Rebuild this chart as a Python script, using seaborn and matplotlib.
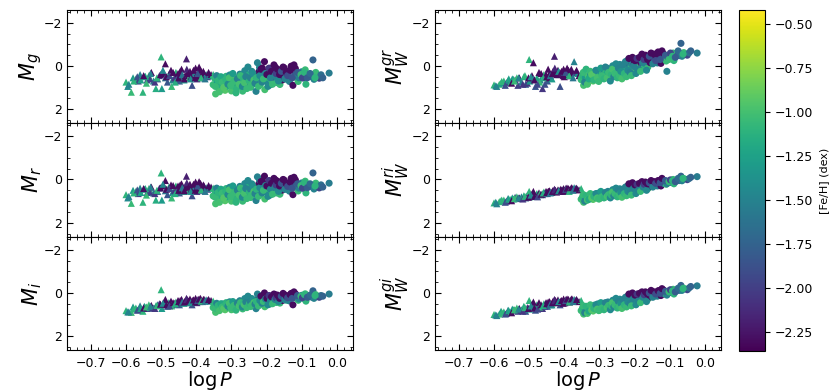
import numpy as np
import pandas as pd
import seaborn as sns
import matplotlib.pyplot as plt
from matplotlib.ticker import MultipleLocator
from matplotlib.colors import Normalize
from matplotlib.cm import ScalarMappable

# RRc stars (triangles): logP, [Fe/H] and absolute magnitudes per band
c_logp = [-0.600, -0.595, -0.585, -0.580, -0.572, -0.565, -0.560, -0.552, -0.548, -0.540,
          -0.535, -0.528, -0.522, -0.515, -0.510, -0.505, -0.500, -0.498, -0.492, -0.488,
          -0.482, -0.478, -0.472, -0.468, -0.462, -0.458, -0.452, -0.448, -0.442, -0.438,
          -0.432, -0.428, -0.425, -0.420, -0.418, -0.412, -0.410, -0.405, -0.402, -0.398,
          -0.395, -0.390, -0.388, -0.382, -0.378, -0.372, -0.368, -0.362, -0.358, -0.352,
          -0.532, -0.545, -0.470, -0.455, -0.445, -0.435, -0.415, -0.400, -0.385, -0.488,
          -0.592, -0.578, -0.568, -0.558, -0.550, -0.542, -0.530, -0.518, -0.512, -0.502,
          -0.495, -0.485, -0.476, -0.466, -0.460, -0.450, -0.446, -0.440, -0.434, -0.427,
          -0.422, -0.416, -0.408, -0.403, -0.396, -0.392, -0.386, -0.380, -0.375, -0.365]
c_feh = [-1.10, -1.45, -1.05, -1.30, -1.10, -2.00, -1.50, -1.10, -1.35, -1.90,
         -1.05, -2.30, -1.50, -1.15, -1.80, -2.05, -1.10, -1.30, -2.30, -1.60,
         -1.85, -1.20, -2.30, -1.50, -2.05, -1.10, -2.30, -1.80, -2.30, -1.45,
         -2.30, -2.20, -2.30, -1.10, -2.30, -1.90, -2.30, -1.50, -2.30, -2.10,
         -2.30, -1.20, -2.30, -1.80, -2.30, -1.50, -2.00, -1.40, -2.30, -1.10,
         -2.00, -1.20, -1.05, -1.90, -2.30, -1.30, -2.25, -2.30, -2.30, -2.30,
         -1.50, -1.10, -1.90, -1.25, -2.30, -1.05, -1.50, -2.05, -1.10, -2.30,
         -1.45, -2.30, -1.95, -2.30, -1.15, -2.30, -2.30, -1.60, -2.30, -2.15,
         -2.30, -1.40, -2.30, -2.30, -1.85, -2.30, -1.10, -2.30, -1.60, -2.30]
c_mg = [0.75, 0.95, 1.22, 0.55, 0.60, 0.70, 0.40, 1.22, 0.50, 0.65,
        0.45, 0.30, 0.70, 1.05, 0.60, 0.45, -0.42, 1.05, 0.35, 0.55,
        0.75, 0.40, 0.20, 0.65, 0.55, 0.30, 0.35, 0.70, 0.15, 0.50,
        0.45, -0.33, 0.30, 0.55, 0.25, 0.90, 0.40, 0.35, 0.10, 0.60,
        0.30, 0.45, 0.20, 0.55, 0.35, 0.40, 0.50, 0.45, 0.40, 0.40,
        0.60, 0.48, 0.95, 0.60, 0.40, 0.65, 0.50, 0.45, 0.50, -0.10,
        0.85, 0.70, 0.50, 0.65, 0.45, 0.80, 0.35, 0.75, 0.55, 0.40,
        0.20, 0.50, 0.45, 0.30, 0.75, 0.55, 0.25, 0.40, 0.60, 0.15,
        0.35, 0.60, 0.20, 0.55, 0.35, 0.05, 0.55, 0.25, 0.60, 0.30]
c_mr = [0.70, 0.85, 1.10, 0.50, 0.55, 0.65, 0.40, 1.05, 0.45, 0.60,
        0.42, 0.35, 0.62, 0.95, 0.55, 0.40, -0.30, 0.95, 0.30, 0.52,
        0.70, 0.35, 0.25, 0.60, 0.50, 0.30, 0.30, 0.62, 0.20, 0.45,
        0.40, -0.15, 0.28, 0.50, 0.22, 0.75, 0.38, 0.35, 0.12, 0.55,
        0.30, 0.40, 0.18, 0.50, 0.30, 0.38, 0.45, 0.40, 0.35, 0.40,
        0.58, 0.42, 0.85, 0.55, 0.35, 0.55, 0.45, 0.42, 0.45, 0.05,
        0.78, 0.62, 0.48, 0.60, 0.42, 0.72, 0.35, 0.65, 0.50, 0.38,
        0.22, 0.45, 0.42, 0.28, 0.65, 0.50, 0.25, 0.38, 0.52, 0.15,
        0.35, 0.55, 0.22, 0.50, 0.30, 0.10, 0.48, 0.25, 0.55, 0.28]
c_mi = [0.82, 0.88, 0.90, 0.65, 0.70, 0.78, 0.60, 0.85, 0.62, 0.72,
        0.55, 0.58, 0.70, 0.60, 0.55, 0.50, -0.15, 0.72, 0.45, 0.52,
        0.62, 0.45, 0.38, 0.55, 0.48, 0.42, 0.35, 0.55, 0.30, 0.45,
        0.38, 0.25, 0.32, 0.45, 0.28, 0.55, 0.35, 0.38, 0.25, 0.45,
        0.30, 0.40, 0.25, 0.40, 0.30, 0.32, 0.35, 0.38, 0.35, 0.38,
        0.70, 0.68, 0.60, 0.52, 0.42, 0.48, 0.38, 0.40, 0.38, 0.30,
        0.88, 0.75, 0.80, 0.72, 0.70, 0.65, 0.62, 0.72, 0.58, 0.52,
        0.48, 0.55, 0.60, 0.45, 0.50, 0.40, 0.35, 0.42, 0.42, 0.30,
        0.38, 0.45, 0.32, 0.42, 0.35, 0.28, 0.38, 0.30, 0.38, 0.30]
c_wgr = [0.88, 0.92, 0.85, 0.80, 0.70, 0.78, 0.68, 0.75, 0.60, 0.65,
         0.55, 0.55, 0.75, 0.50, 0.85, 0.80, -0.30, 0.70, 0.45, 0.60,
         0.95, 0.55, 0.30, 0.65, 1.05, 0.40, 0.40, 0.70, 0.35, 0.55,
         0.25, -0.45, 0.30, 0.40, 0.20, 0.95, 0.35, 0.30, 0.15, 0.45,
         0.25, 0.35, 0.20, 0.40, 0.30, -0.20, 0.30, 0.35, 0.45, 0.40,
         0.90, 0.62, 0.75, 0.85, 0.55, 0.60, 0.40, 0.50, 0.45, -0.15,
         0.95, 0.72, 0.90, 0.60, 0.80, 0.70, 0.55, 0.85, 0.45, 0.55,
         0.50, 0.65, 0.85, 0.35, 0.55, 0.50, 0.15, 0.45, 0.35, 0.10,
         0.40, 0.25, 0.25, 0.45, 0.30, 0.10, 0.45, 0.15, 0.55, 0.20]
c_wri = [1.08, 1.05, 1.02, 0.98, 0.95, 1.00, 0.88, 0.92, 0.85, 0.82,
         0.80, 0.85, 0.80, 0.75, 0.85, 0.72, 0.55, 0.80, 0.68, 0.70,
         0.78, 0.65, 0.62, 0.70, 0.70, 0.58, 0.55, 0.65, 0.52, 0.58,
         0.50, 0.45, 0.50, 0.55, 0.48, 0.55, 0.45, 0.48, 0.42, 0.50,
         0.40, 0.45, 0.42, 0.45, 0.40, 0.38, 0.42, 0.45, 0.48, 0.42,
         0.88, 0.90, 0.68, 0.65, 0.55, 0.60, 0.50, 0.52, 0.48, 0.55,
         1.12, 0.95, 1.05, 0.90, 0.98, 0.88, 0.85, 0.90, 0.78, 0.82,
         0.72, 0.78, 0.80, 0.68, 0.62, 0.60, 0.55, 0.62, 0.55, 0.48,
         0.58, 0.52, 0.50, 0.55, 0.45, 0.40, 0.55, 0.38, 0.50, 0.40]
c_wgi = [1.00, 1.02, 0.98, 0.85, 0.88, 0.95, 0.80, 0.90, 0.75, 0.80,
         0.70, 0.72, 0.78, 0.62, 0.85, 0.68, 0.35, 0.75, 0.55, 0.62,
         0.80, 0.55, 0.45, 0.68, 0.72, 0.50, 0.45, 0.62, 0.40, 0.55,
         0.38, 0.30, 0.35, 0.45, 0.32, 0.55, 0.38, 0.40, 0.28, 0.45,
         0.30, 0.38, 0.30, 0.35, 0.28, 0.30, 0.35, 0.38, 0.40, 0.35,
         0.85, 0.78, 0.65, 0.62, 0.50, 0.55, 0.42, 0.45, 0.42, 0.42,
         1.05, 0.90, 0.98, 0.82, 0.92, 0.78, 0.75, 0.85, 0.68, 0.72,
         0.60, 0.70, 0.75, 0.55, 0.58, 0.50, 0.42, 0.52, 0.45, 0.36,
         0.45, 0.40, 0.35, 0.48, 0.35, 0.28, 0.42, 0.28, 0.40, 0.30]

# RRab stars (circles)
ab_logp = [-0.352, -0.348, -0.345, -0.340, -0.336, -0.332, -0.328, -0.325, -0.320, -0.318,
           -0.315, -0.312, -0.308, -0.305, -0.300, -0.298, -0.295, -0.292, -0.290, -0.288,
           -0.285, -0.282, -0.280, -0.276, -0.272, -0.270, -0.268, -0.265, -0.262, -0.260,
           -0.258, -0.255, -0.252, -0.250, -0.248, -0.245, -0.242, -0.240, -0.238, -0.235,
           -0.232, -0.230, -0.228, -0.225, -0.222, -0.220, -0.218, -0.215, -0.212, -0.210,
           -0.208, -0.205, -0.202, -0.200, -0.198, -0.195, -0.192, -0.190, -0.188, -0.185,
           -0.182, -0.180, -0.178, -0.175, -0.172, -0.170, -0.168, -0.165, -0.162, -0.160,
           -0.155, -0.152, -0.150, -0.145, -0.142, -0.138, -0.135, -0.130, -0.125, -0.120,
           -0.118, -0.115, -0.110, -0.105, -0.100, -0.095, -0.090, -0.088, -0.080, -0.072,
           -0.068, -0.065, -0.060, -0.050, -0.045, -0.022, -0.108,
           -0.346, -0.342, -0.338, -0.334, -0.330, -0.326, -0.322, -0.316, -0.310, -0.306,
           -0.302, -0.296, -0.293, -0.287, -0.283, -0.278, -0.274, -0.269, -0.266, -0.263,
           -0.259, -0.256, -0.253, -0.249, -0.246, -0.243, -0.239, -0.236, -0.233, -0.229,
           -0.226, -0.223, -0.219, -0.216, -0.213, -0.209, -0.206, -0.203, -0.199, -0.196,
           -0.193, -0.189, -0.186, -0.183, -0.179, -0.176, -0.173, -0.169, -0.166, -0.163,
           -0.158, -0.153, -0.148, -0.144, -0.140, -0.133, -0.127, -0.122, -0.112, -0.102,
           -0.098, -0.092, -0.084, -0.076, -0.062, -0.040]
ab_feh = [-1.05, -1.10, -1.00, -1.30, -1.05, -1.00, -1.15, -1.40, -1.05, -0.95,
          -1.10, -1.20, -1.05, -1.45, -1.00, -1.10, -1.30, -1.05, -1.00, -1.55,
          -1.10, -1.05, -1.20, -1.50, -1.00, -1.10, -1.05, -1.35, -1.45, -1.05,
          -1.10, -1.50, -1.00, -1.15, -1.50, -1.05, -1.45, -1.10, -1.30, -1.55,
          -1.05, -1.50, -1.10, -1.20, -2.30, -1.45, -1.05, -1.50, -2.30, -1.10,
          -1.50, -1.00, -1.85, -2.30, -1.45, -1.10, -2.30, -1.50, -2.05, -1.05,
          -2.30, -1.50, -1.80, -2.30, -1.10, -2.00, -1.45, -2.30, -1.05, -1.80,
          -2.30, -1.50, -2.30, -1.95, -1.10, -2.30, -1.50, -2.30, -2.30, -1.80,
          -2.30, -1.45, -1.05, -1.90, -1.50, -1.85, -1.05, -1.10, -1.85, -1.65,
          -1.75, -1.50, -1.05, -1.95, -1.65, -1.55, -1.50,
          -1.05, -1.50, -1.10, -1.00, -1.20, -1.05, -0.95, -1.10, -1.45, -1.00,
          -1.05, -1.30, -1.05, -1.10, -1.50, -1.00, -1.05, -1.45, -1.10, -1.00,
          -1.50, -1.05, -1.45, -1.10, -1.50, -1.05, -1.40, -1.00, -1.50, -1.10,
          -1.50, -1.05, -1.45, -2.30, -1.50, -1.05, -2.30, -1.50, -2.30, -1.45,
          -2.05, -1.50, -2.30, -1.05, -2.30, -1.50, -2.00, -2.30, -1.45, -2.30,
          -1.85, -2.30, -1.50, -2.30, -1.90, -2.30, -1.85, -2.30, -1.80, -1.05,
          -1.95, -1.10, -1.80, -1.70, -1.10, -1.75]
ab_mg = [0.87, 0.57, 1.30, 0.76, 1.05, 0.65, 0.89, 0.59, 0.79, 1.13,
         0.48, 0.93, 0.72, 0.42, 1.16, 0.81, 0.61, 0.95, 0.65, 0.75,
         1.04, 0.54, 0.79, 0.38, 0.88, 0.67, 1.17, 0.47, 0.22, 0.82,
         0.56, 0.96, 0.71, 0.41, 0.75, 0.99, 0.25, 0.64, 0.84, 0.54,
         0.78, 1.18, 0.48, 0.68, 0.27, 0.07, 0.87, 0.61, 0.10, 0.71,
         0.40, 1.10, 0.50, 0.29, 0.73, 0.53, 0.13, 0.88, 0.38, 0.68,
         0.48, 0.27, 0.62, 0.06, 0.77, 0.41, 0.61, 0.26, 0.86, 0.50,
         0.65, 0.34, 0.09, 0.53, 0.62, 0.27, 0.72, 0.01, 0.90, 0.40,
         0.12, 0.54, 0.72, 0.44, 0.27, 0.56, 0.18, 0.85, 0.45, 0.50,
         -0.28, 0.62, 0.30, 0.57, 0.41, 0.33, 0.55,
         0.95, 0.45, 0.68, 1.20, 0.50, 0.75, 1.00, 0.62, 0.85, 0.55,
         0.90, 0.35, 0.72, 1.25, 0.60, 0.85, 0.45, 0.95, 0.60, 0.78,
         0.50, 1.05, 0.05, 0.70, 0.55, 0.88, 0.35, 0.65, 0.80, 0.55,
         -0.15, 0.95, 0.45, 0.15, 0.75, 0.60, -0.20, 0.35, 0.40, 0.95,
         0.10, 0.55, 0.25, 0.85, -0.05, 0.45, 0.35, 0.15, 0.70, 0.40,
         0.25, 0.05, 0.60, 0.30, 0.45, 0.20, 0.55, -0.05, 0.30, 0.40,
         0.55, 0.30, 0.55, 0.35, 0.55, 0.55]
ab_mr = [0.76, 0.50, 1.12, 0.66, 0.92, 0.57, 0.77, 0.51, 0.68, 0.98,
         0.42, 0.80, 0.62, 0.36, 1.00, 0.69, 0.52, 0.81, 0.56, 0.64,
         0.89, 0.46, 0.67, 0.32, 0.75, 0.57, 1.00, 0.40, 0.19, 0.68,
         0.47, 0.80, 0.59, 0.34, 0.62, 0.83, 0.20, 0.52, 0.69, 0.43,
         0.64, 0.97, 0.38, 0.55, 0.20, 0.03, 0.71, 0.49, 0.06, 0.57,
         0.31, 0.90, 0.39, 0.22, 0.59, 0.42, 0.08, 0.72, 0.29, 0.54,
         0.37, 0.19, 0.48, 0.02, 0.62, 0.30, 0.47, 0.17, 0.68, 0.37,
         0.49, 0.23, 0.03, 0.39, 0.46, 0.18, 0.54, -0.05, 0.70, 0.27,
         0.02, 0.38, 0.53, 0.30, 0.16, 0.40, 0.08, 0.62, 0.30, 0.33,
         -0.30, 0.44, 0.17, 0.39, 0.25, 0.17, 0.40,
         0.82, 0.40, 0.60, 1.05, 0.45, 0.62, 0.85, 0.55, 0.70, 0.48,
         0.78, 0.30, 0.62, 1.05, 0.50, 0.72, 0.40, 0.82, 0.52, 0.65,
         0.42, 0.88, 0.05, 0.58, 0.45, 0.72, 0.30, 0.55, 0.65, 0.45,
         -0.12, 0.78, 0.38, 0.10, 0.62, 0.50, -0.15, 0.28, 0.30, 0.78,
         0.05, 0.45, 0.18, 0.68, -0.05, 0.35, 0.25, 0.08, 0.55, 0.30,
         0.18, 0.00, 0.45, 0.20, 0.32, 0.12, 0.40, -0.10, 0.20, 0.28,
         0.40, 0.15, 0.38, 0.20, 0.30, 0.35]
ab_mi = [0.68, 0.52, 0.90, 0.62, 0.77, 0.56, 0.67, 0.51, 0.60, 0.78,
         0.45, 0.66, 0.56, 0.41, 0.78, 0.59, 0.49, 0.66, 0.51, 0.54,
         0.70, 0.45, 0.57, 0.36, 0.61, 0.50, 0.74, 0.39, 0.26, 0.56,
         0.43, 0.62, 0.49, 0.35, 0.50, 0.63, 0.26, 0.45, 0.54, 0.39,
         0.50, 0.73, 0.35, 0.43, 0.24, 0.14, 0.53, 0.40, 0.15, 0.44,
         0.30, 0.64, 0.34, 0.23, 0.44, 0.35, 0.14, 0.51, 0.26, 0.41,
         0.31, 0.20, 0.37, 0.09, 0.44, 0.25, 0.35, 0.17, 0.47, 0.29,
         0.35, 0.19, 0.07, 0.29, 0.34, 0.14, 0.37, 0.02, 0.55, 0.19,
         0.04, 0.25, 0.34, 0.20, 0.11, 0.25, 0.04, 0.38, 0.18, 0.19,
         -0.10, 0.25, 0.08, 0.20, 0.12, 0.05, 0.28,
         0.72, 0.48, 0.58, 0.82, 0.50, 0.65, 0.72, 0.52, 0.62, 0.48,
         0.68, 0.40, 0.58, 0.80, 0.48, 0.60, 0.45, 0.65, 0.48, 0.55,
         0.42, 0.68, 0.15, 0.50, 0.40, 0.58, 0.32, 0.45, 0.52, 0.40,
         0.05, 0.60, 0.35, 0.15, 0.48, 0.40, 0.00, 0.28, 0.25, 0.55,
         0.12, 0.35, 0.18, 0.50, 0.05, 0.30, 0.22, 0.10, 0.40, 0.25,
         0.15, 0.02, 0.32, 0.15, 0.22, 0.08, 0.25, -0.05, 0.12, 0.15,
         0.22, 0.08, 0.20, 0.10, 0.12, 0.15]
ab_wgr = [0.64, 0.44, 0.90, 0.54, 0.70, 0.46, 0.56, 0.39, 0.49, 0.70,
          0.29, 0.56, 0.41, 0.22, 0.65, 0.43, 0.30, 0.50, 0.31, 0.36,
          0.54, 0.22, 0.37, 0.11, 0.42, 0.27, 0.56, 0.13, -0.01, 0.32,
          0.16, 0.38, 0.23, 0.04, 0.23, 0.38, -0.07, 0.15, 0.26, 0.08,
          0.20, 0.43, 0.02, 0.11, -0.14, -0.26, 0.20, 0.05, -0.25, 0.09,
          -0.09, 0.28, -0.07, -0.19, 0.06, -0.06, -0.30, 0.14, -0.16, 0.00,
          -0.14, -0.26, -0.05, -0.40, 0.03, -0.20, -0.10, -0.33, 0.05, -0.19,
          -0.15, -0.33, -0.48, -0.22, -0.17, -0.40, -0.14, -0.54, -0.12, -0.38,
          -0.57, -0.32, -0.23, -0.41, -0.52, -0.36, -0.60, -0.25, -0.47, -0.48,
          -1.05, -0.45, -0.62, -0.50, -0.61, -0.60, 0.25,
          0.30, 0.75, 0.15, 0.85, 0.60, 0.25, 0.40, 0.65, 0.20, 0.55,
          0.72, 0.10, 0.45, 0.60, 0.05, 0.55, 0.30, 0.70, 0.40, 0.15,
          0.50, 0.35, -0.10, 0.55, 0.10, 0.45, 0.25, 0.60, -0.05, 0.35,
          -0.20, 0.50, 0.20, -0.35, 0.30, 0.45, -0.40, 0.00, -0.25, 0.35,
          -0.35, 0.15, -0.40, 0.25, -0.55, -0.15, -0.30, -0.50, 0.20, -0.30,
          -0.45, -0.60, -0.10, -0.55, -0.25, -0.65, -0.30, -0.70, -0.50, -0.30,
          -0.60, -0.45, -0.40, -0.70, -0.55, -0.70]
ab_wri = [0.91, 0.80, 1.05, 0.85, 0.95, 0.80, 0.86, 0.75, 0.81, 0.92,
          0.70, 0.83, 0.75, 0.64, 0.89, 0.76, 0.69, 0.79, 0.68, 0.71,
          0.82, 0.63, 0.71, 0.55, 0.72, 0.64, 0.80, 0.56, 0.47, 0.66,
          0.57, 0.70, 0.61, 0.50, 0.61, 0.69, 0.43, 0.55, 0.61, 0.49,
          0.56, 0.66, 0.47, 0.52, 0.37, 0.30, 0.56, 0.47, 0.30, 0.48,
          0.39, 0.62, 0.41, 0.33, 0.46, 0.41, 0.25, 0.50, 0.33, 0.42,
          0.36, 0.27, 0.38, 0.19, 0.42, 0.29, 0.35, 0.22, 0.42, 0.29,
          0.33, 0.22, 0.14, 0.27, 0.28, 0.15, 0.30, 0.07, 0.30, 0.16,
          0.03, 0.19, 0.22, 0.13, 0.06, 0.14, 0.00, 0.20, 0.07, 0.05,
          -0.15, 0.06, -0.04, 0.01, -0.04, -0.13, 0.20,
          0.70, 1.00, 0.75, 0.95, 0.92, 0.65, 0.85, 0.78, 0.65, 0.85,
          0.90, 0.55, 0.80, 0.85, 0.60, 0.78, 0.70, 0.85, 0.72, 0.58,
          0.75, 0.65, 0.40, 0.80, 0.50, 0.70, 0.60, 0.82, 0.45, 0.65,
          0.35, 0.75, 0.55, 0.20, 0.60, 0.72, 0.15, 0.40, 0.25, 0.65,
          0.22, 0.50, 0.18, 0.55, 0.10, 0.35, 0.22, 0.12, 0.50, 0.20,
          0.15, 0.05, 0.35, 0.10, 0.18, 0.05, 0.15, -0.05, 0.05, 0.10,
          0.02, 0.05, 0.10, -0.05, -0.05, -0.10]
ab_wgi = [0.82, 0.70, 0.98, 0.75, 0.87, 0.70, 0.77, 0.63, 0.70, 0.84,
          0.57, 0.74, 0.64, 0.51, 0.80, 0.66, 0.57, 0.69, 0.57, 0.60,
          0.72, 0.51, 0.59, 0.42, 0.62, 0.52, 0.71, 0.43, 0.34, 0.55,
          0.45, 0.60, 0.49, 0.37, 0.49, 0.59, 0.29, 0.42, 0.50, 0.36,
          0.45, 0.56, 0.33, 0.39, 0.22, 0.15, 0.44, 0.34, 0.14, 0.35,
          0.25, 0.51, 0.27, 0.17, 0.33, 0.27, 0.09, 0.37, 0.19, 0.28,
          0.21, 0.10, 0.24, 0.02, 0.28, 0.14, 0.20, 0.06, 0.28, 0.14,
          0.18, 0.06, -0.04, 0.12, 0.14, -0.01, 0.15, -0.11, 0.12, 0.00,
          -0.14, 0.03, 0.07, -0.03, -0.12, -0.02, -0.17, 0.05, -0.11, -0.12,
          -0.35, -0.12, -0.22, -0.15, -0.23, -0.33, 0.10,
          0.60, 0.92, 0.62, 0.95, 0.85, 0.55, 0.80, 0.72, 0.55, 0.75,
          0.82, 0.45, 0.70, 0.78, 0.45, 0.68, 0.58, 0.78, 0.60, 0.45,
          0.65, 0.55, 0.25, 0.70, 0.40, 0.62, 0.48, 0.72, 0.32, 0.55,
          0.20, 0.65, 0.42, 0.05, 0.50, 0.60, 0.00, 0.25, 0.10, 0.55,
          0.05, 0.38, 0.02, 0.45, -0.05, 0.20, 0.08, -0.05, 0.40, 0.05,
          0.00, -0.12, 0.20, -0.05, 0.05, -0.10, 0.02, -0.20, -0.08, -0.05,
          -0.15, -0.10, -0.05, -0.22, -0.20, -0.30]

bands = ['Mg', 'Mr', 'Mi', 'Wgr', 'Wri', 'Wgi']
ylabels = [r'$M_g$', r'$M_r$', r'$M_i$', r'$M_W^{gr}$', r'$M_W^{ri}$', r'$M_W^{gi}$']

rrc = pd.DataFrame({'logP': c_logp, 'feh': c_feh, 'Mg': c_mg, 'Mr': c_mr, 'Mi': c_mi,
                    'Wgr': c_wgr, 'Wri': c_wri, 'Wgi': c_wgi})
rrc['type'] = 'RRc'
rrab = pd.DataFrame({'logP': ab_logp, 'feh': ab_feh, 'Mg': ab_mg, 'Mr': ab_mr, 'Mi': ab_mi,
                     'Wgr': ab_wgr, 'Wri': ab_wri, 'Wgi': ab_wgi})
rrab['type'] = 'RRab'
df = pd.concat([rrc, rrab], ignore_index=True)

vmin, vmax = -2.36, -0.42
norm = Normalize(vmin=vmin, vmax=vmax)

fig = plt.figure(figsize=(8.31, 3.91), dpi=100)
W, H = 831, 391
col_x = [(67, 353), (435, 721)]
row_y = [(10, 123), (123, 237), (237, 350)]

for k, band in enumerate(bands):
    col = k // 3
    row = k % 3
    x0, x1 = col_x[col]
    y0, y1 = row_y[row]
    ax = fig.add_axes([x0 / W, 1 - y1 / H, (x1 - x0) / W, (y1 - y0) / H])
    sns.scatterplot(data=df, x='logP', y=band, hue='feh', palette='viridis',
                    hue_norm=norm, style='type', markers={'RRab': 'o', 'RRc': '^'},
                    s=26, linewidth=0, legend=False, ax=ax)
    ax.set_xlim(-0.768, 0.046)
    ax.set_ylim(2.65, -2.6)
    ax.xaxis.set_major_locator(MultipleLocator(0.1))
    ax.xaxis.set_minor_locator(MultipleLocator(0.02))
    ax.yaxis.set_major_locator(MultipleLocator(2))
    ax.yaxis.set_minor_locator(MultipleLocator(0.5))
    ax.tick_params(which='both', direction='in', top=True, right=True, labelsize=9)
    ax.tick_params(which='major', length=4)
    ax.tick_params(which='minor', length=2)
    ax.tick_params(axis='x', pad=5)
    ax.set_ylabel(ylabels[k], fontsize=15, labelpad=0)
    if row == 2:
        ax.set_xlabel(r'$\log P$', fontsize=14, labelpad=-1)
    else:
        ax.set_xlabel('')
        ax.tick_params(labelbottom=False)

cax = fig.add_axes([739 / W, 1 - 351 / H, 26 / W, 341 / H])
sm = ScalarMappable(norm=norm, cmap='viridis')
cb = fig.colorbar(sm, cax=cax)
cb.set_ticks([-2.25, -2.0, -1.75, -1.5, -1.25, -1.0, -0.75, -0.5])
cb.ax.tick_params(labelsize=9)
cb.set_label('[Fe/H] (dex)', fontsize=8)

fig.savefig('out.png', dpi=100)
